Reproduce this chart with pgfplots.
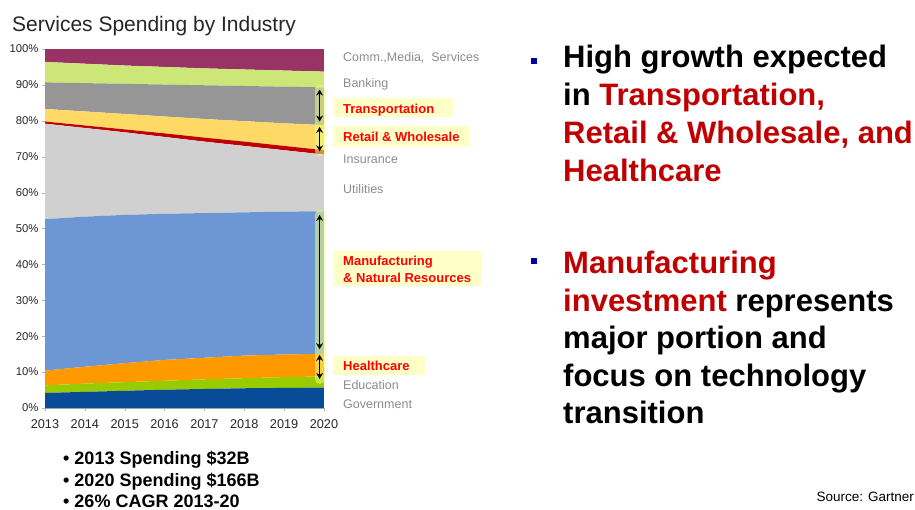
\documentclass[border=0pt]{standalone}
\usepackage{pgfplots}
\pgfplotsset{compat=1.18}
\usepackage{fontspec}
\setmainfont{Liberation Sans}
\usetikzlibrary{arrows.meta}
\definecolor{govblue}{RGB}{8,76,152}
\definecolor{edugreen}{RGB}{153,204,0}
\definecolor{healthorange}{RGB}{255,153,0}
\definecolor{manufblue}{RGB}{108,150,212}
\definecolor{utilgrey}{RGB}{208,208,208}
\definecolor{insred}{RGB}{192,0,0}
\definecolor{retailyellow}{RGB}{255,217,102}
\definecolor{transgrey}{RGB}{150,150,150}
\definecolor{bankgreen}{RGB}{204,230,120}
\definecolor{commmaroon}{RGB}{153,51,102}
\definecolor{lblgrey}{RGB}{140,140,140}
\definecolor{hlyellow}{RGB}{255,255,200}
\definecolor{darkred}{RGB}{192,0,0}
\definecolor{bulletblue}{RGB}{0,0,160}
\definecolor{glow}{RGB}{240,255,120}
\begin{document}
\begin{tikzpicture}
\path[use as bounding box] (0pt,0pt) rectangle (915pt,-509pt);
\begin{axis}[
  at={(45pt,-408pt)}, anchor=south west,
  scale only axis, width=279pt, height=359pt,
  xmin=2013, xmax=2020, ymin=0, ymax=100,
  stack plots=y,
  axis x line*=bottom, axis y line*=left,
  axis line style={gray!60, -},
  tick style={gray!60},
  tick align=outside, major tick length=3pt,
  xtick={2013,2014,...,2020},
  ytick={0,10,...,100},
  /pgf/number format/assume math mode=true,
  /pgf/number format/1000 sep={},
  yticklabel={\pgfmathprintnumber{\tick}\%},
  yticklabel style={font=\fontsize{11.3}{12}\selectfont, text=black!85},
  xticklabel style={font=\fontsize{12.7}{14}\selectfont, text=black!85, yshift=-5pt},
  clip=false,
]
% Government
\addplot[fill=govblue, draw=none] coordinates {(2013,4.2)(2014,4.5)(2015,4.8)(2016,5.1)(2017,5.3)(2018,5.5)(2019,5.6)(2020,5.7)} \closedcycle;
% Education
\addplot[fill=edugreen, draw=none] coordinates {(2013,2.1)(2014,2.3)(2015,2.4)(2016,2.5)(2017,2.7)(2018,2.8)(2019,3.0)(2020,3.1)} \closedcycle;
% Healthcare
\addplot[fill=healthorange, draw=none] coordinates {(2013,4.1)(2014,4.7)(2015,5.3)(2016,5.8)(2017,6.0)(2018,6.3)(2019,6.3)(2020,6.3)} \closedcycle;
% Manufacturing
\addplot[fill=manufblue, draw=none] coordinates {(2013,42.2)(2014,41.8)(2015,41.3)(2016,40.7)(2017,40.3)(2018,39.9)(2019,39.8)(2020,39.7)} \closedcycle;
% Utilities
\addplot[fill=utilgrey, draw=none] coordinates {(2013,26.6)(2014,24.7)(2015,23.0)(2016,21.4)(2017,19.9)(2018,18.5)(2019,17.1)(2020,15.8)} \closedcycle;
% Insurance
\addplot[fill=insred, draw=none] coordinates {(2013,0.6)(2014,0.7)(2015,0.8)(2016,1.0)(2017,1.1)(2018,1.2)(2019,1.2)(2020,1.2)} \closedcycle;
% Retail
\addplot[fill=retailyellow, draw=none] coordinates {(2013,3.5)(2014,3.9)(2015,4.3)(2016,4.7)(2017,5.2)(2018,5.7)(2019,6.3)(2020,7.0)} \closedcycle;
% Transportation
\addplot[fill=transgrey, draw=none] coordinates {(2013,7.4)(2014,7.9)(2015,8.4)(2016,8.9)(2017,9.4)(2018,9.8)(2019,10.2)(2020,10.5)} \closedcycle;
% Banking
\addplot[fill=bankgreen, draw=none] coordinates {(2013,5.7)(2014,5.4)(2015,5.1)(2016,4.9)(2017,4.7)(2018,4.6)(2019,4.5)(2020,4.4)} \closedcycle;
% Comm, Media, Services
\addplot[fill=commmaroon, draw=none] coordinates {(2013,3.6)(2014,4.1)(2015,4.6)(2016,5.0)(2017,5.4)(2018,5.7)(2019,6.0)(2020,6.3)} \closedcycle;
\coordinate (a1) at (axis cs:2019.89,88.7);
\coordinate (a2) at (axis cs:2019.89,79.8);
\coordinate (b1) at (axis cs:2019.89,78.3);
\coordinate (b2) at (axis cs:2019.89,71.5);
\coordinate (c1) at (axis cs:2019.89,53.8);
\coordinate (c2) at (axis cs:2019.89,16.4);
\coordinate (d1) at (axis cs:2019.89,14.8);
\coordinate (d2) at (axis cs:2019.89,8.1);
\end{axis}
% glow
\draw[line width=10pt, glow, opacity=0.55, line cap=round] (a1) -- (b2);
\draw[line width=10pt, glow, opacity=0.55, line cap=round] (c1) -- (d2);
% arrows
\begin{scope}[line width=1.5pt, black, {Stealth[length=6pt,width=7pt]}-{Stealth[length=6pt,width=7pt]}]
\draw (a1) -- (a2);
\draw (b1) -- (b2);
\draw (c1) -- (c2);
\draw (d1) -- (d2);
\end{scope}
\begin{scope}[x=1pt,y=1pt]
% title
\node[anchor=base west, inner sep=0, text=black!85] at (12,-31.5) {\fontsize{21}{24}\selectfont Services Spending by Industry};
% highlight boxes
\fill[hlyellow] (332.7,-98.3) rectangle (452.7,-117.3);
\fill[hlyellow] (332.7,-125.7) rectangle (470,-146.7);
\fill[hlyellow] (332.7,-251) rectangle (481,-285.7);
\fill[hlyellow] (332.7,-356) rectangle (425,-375);
% labels
\begin{scope}[every node/.style={anchor=base west, inner sep=0}]
\node[text=lblgrey] at (343,-61.2) {\fontsize{12.5}{14}\selectfont Comm.,Media,\ \ Services};
\node[text=lblgrey] at (343,-87.2) {\fontsize{12.5}{14}\selectfont Banking};
\node[text=red] at (343,-113) {\fontsize{13}{15}\selectfont\bfseries Transportation};
\node[text=red] at (343,-141.3) {\fontsize{13}{15}\selectfont\bfseries Retail \& Wholesale};
\node[text=lblgrey] at (343,-163.5) {\fontsize{12.5}{14}\selectfont Insurance};
\node[text=lblgrey] at (343,-193.8) {\fontsize{12.5}{14}\selectfont Utilities};
\node[text=red] at (343,-265.3) {\fontsize{13}{15}\selectfont\bfseries Manufacturing};
\node[text=red] at (343,-282) {\fontsize{13}{15}\selectfont\bfseries \& Natural Resources};
\node[text=red] at (343,-370.3) {\fontsize{13}{15}\selectfont\bfseries Healthcare};
\node[text=lblgrey] at (343,-389.5) {\fontsize{12.5}{14}\selectfont Education};
\node[text=lblgrey] at (343,-408.5) {\fontsize{12.5}{14}\selectfont Government};
% bottom bullets
\node at (63,-464.7) {\fontsize{18}{20}\selectfont\bfseries • 2013 Spending \$32B};
\node at (63,-486.5) {\fontsize{18}{20}\selectfont\bfseries • 2020 Spending \$166B};
\node at (63,-507) {\fontsize{18}{20}\selectfont\bfseries • 26\% CAGR 2013-20};
% right text
\node at (563,-67) {\fontsize{31}{36}\selectfont\bfseries High growth expected};
\node at (563,-105) {\fontsize{31}{36}\selectfont\bfseries in \textcolor{darkred}{Transportation,}};
\node[text=darkred] at (563,-143) {\fontsize{31}{36}\selectfont\bfseries Retail \& Wholesale, and};
\node[text=darkred] at (563,-181) {\fontsize{31}{36}\selectfont\bfseries Healthcare};
\node[text=darkred] at (563,-273.6) {\fontsize{31}{36}\selectfont\bfseries Manufacturing};
\node at (563,-311) {\fontsize{31}{36}\selectfont\bfseries \textcolor{darkred}{investment} represents};
\node at (563,-348.6) {\fontsize{31}{36}\selectfont\bfseries major portion and};
\node at (563,-386) {\fontsize{31}{36}\selectfont\bfseries focus on technology};
\node at (563,-423.6) {\fontsize{31}{36}\selectfont\bfseries transition};
\end{scope}
\node[anchor=base east, inner sep=0] at (914,-501.5) {\fontsize{13.5}{15}\selectfont Source: Gartner};
% blue square bullets
\fill[bulletblue] (531,-58) rectangle (537,-64);
\fill[bulletblue] (531,-258) rectangle (537,-264);
\end{scope}
\end{tikzpicture}
\end{document}
